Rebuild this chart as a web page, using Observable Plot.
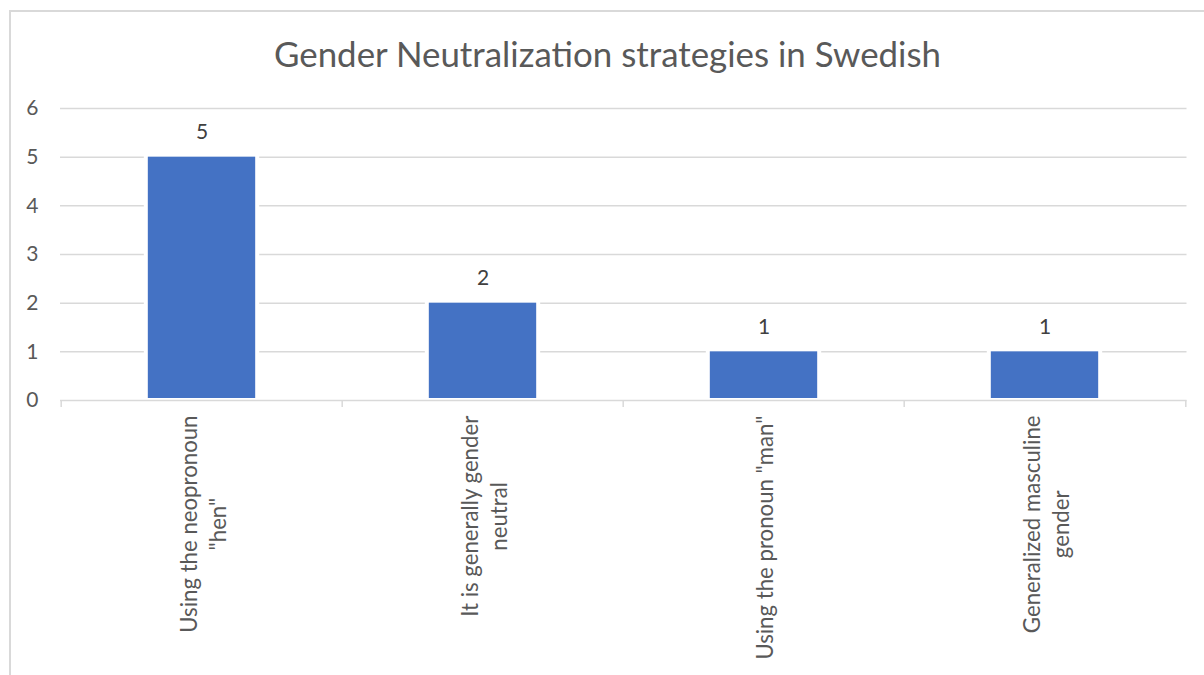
<!DOCTYPE html>
<html>
<head>
<meta charset="utf-8">
<script src="https://cdn.jsdelivr.net/npm/d3@7"></script>
<script src="https://cdn.jsdelivr.net/npm/@observablehq/plot@0.6"></script>
<style>
  html, body { margin: 0; padding: 0; background: #fff; width: 1204px; height: 675px; overflow: hidden; }
  #frame { position: absolute; left: 9px; top: 10px; width: 1300px; height: 800px;
           border-left: 2px solid #d9d9d9; border-top: 2px solid #d9d9d9; box-sizing: border-box; }
  #title { position: absolute; left: 9px; width: 1197px; text-align: center; color: #595959;
           font-family: Lato, "Open Sans", sans-serif; line-height: 1; white-space: nowrap; }
  #chart { position: absolute; left: 0; top: 82px; }
</style>
</head>
<body>
<div id="frame"></div>
<div id="title">Gender Neutralization strategies in Swedish</div>
<div id="chart"></div>
<script>
// ---- data ----
const categories = [
  'Using the neopronoun "hen"',
  'It is generally gender neutral',
  'Using the pronoun "man"',
  'Generalized masculine gender'
];
const labelLines = [
  ['Using the neopronoun', '"hen"'],
  ['It is generally gender', 'neutral'],
  ['Using the pronoun "man"'],
  ['Generalized masculine', 'gender']
];
const values = [5, 2, 1, 1];
const yTicks = [0, 1, 2, 3, 4, 5, 6];
const titleText = "Gender Neutralization strategies in Swedish";

// ---- styling ----
const FONT = "Lato";
const ctx = document.createElement("canvas").getContext("2d");
function measure(text, size) { ctx.font = `${size}px ${FONT}`; return ctx.measureText(text).width; }
const titleSize = 668 / measure(titleText, 1);
const labelSize = (217 / measure("Using the neopronoun", 1) + 202 / measure("It is generally gender", 1)) / 2;
const numSize = 21;

const titleEl = document.getElementById("title");
titleEl.style.fontSize = titleSize + "px";
titleEl.style.top = (68 - 0.887 * titleSize) + "px";

const W = 1204, H = 593;
const mL = 60, mR = 17.5, mT = 26, mB = 275;
const bw = (W - mL - mR) / categories.length;
const barW = 108;
const inset = (bw - barW) / 2;

const data = categories.map((c, i) => ({category: c, value: values[i], lines: labelLines[i].join("\n")}));

const labelMarks = data.map((d, i) => {
  const w = Math.max(...labelLines[i].map(l => measure(l, labelSize)));
  return Plot.text([d], {
    x: "category", y: () => 0, text: "lines",
    rotate: -90, textAnchor: "middle", lineAnchor: "middle",
    lineHeight: 29 / labelSize, fontSize: labelSize, fill: "#595959",
    dy: 15 + w / 2
  });
});

const chart = Plot.plot({
  width: W, height: H,
  marginLeft: mL, marginRight: mR, marginTop: mT, marginBottom: mB,
  style: {fontFamily: FONT, background: "transparent", overflow: "visible"},
  x: {type: "band", domain: categories, padding: 0, axis: null},
  y: {domain: [0, 6], axis: null},
  marks: [
    Plot.ruleY(yTicks.filter(t => t > 0), {y: d => d, stroke: "#d9d9d9", strokeWidth: 1.5}),
    Plot.barY(data, {x: "category", y: "value", fill: "white",
      insetLeft: inset - 4, insetRight: inset - 4, insetTop: -3}),
    Plot.barY(data, {x: "category", y: "value", fill: "#4472C4",
      insetLeft: inset, insetRight: inset, insetBottom: 2}),
    Plot.ruleY([0], {y: d => d, stroke: "#d9d9d9", strokeWidth: 1.5}),
    Plot.ruleX(categories, {x: d => d, dx: -bw / 2, y1: () => 0, y2: () => 0, insetBottom: -7,
      stroke: "#d9d9d9", strokeWidth: 1.5}),
    Plot.ruleX([categories[categories.length - 1]], {x: d => d, dx: bw / 2, y1: () => 0, y2: () => 0, insetBottom: -7,
      stroke: "#d9d9d9", strokeWidth: 1.5}),
    Plot.axisY({ticks: yTicks, tickSize: 0, tickPadding: 22, fontSize: numSize, color: "#595959",
      label: null, tickFormat: d => String(d)}),
    Plot.text(data, {x: "category", y: "value", text: d => String(d.value), dy: -25,
      fontSize: numSize, fill: "#404040"}),
    ...labelMarks
  ]
});
document.getElementById("chart").appendChild(chart);
</script>
</body>
</html>
